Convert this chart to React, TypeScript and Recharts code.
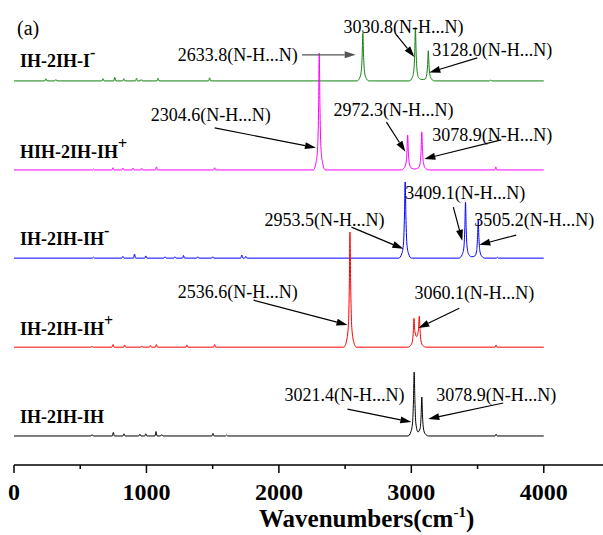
import React from 'react'
import { LineChart, Line, XAxis, YAxis, ReferenceDot, ReferenceLine } from 'recharts'

type Pt = [number, number]

// wavenumber (cm-1), intensity above each trace's own baseline
const spectrumI: Pt[] = [
  [0, 0], [233, 0], [241, 0.5], [249, 0], [308, 0], [316, 0.3], [324, 0], [664, 0], [672, 0.5], [680, 0],
  [753, 0], [761, 0.8], [769, 0], [821, 0], [829, 0.5], [837, 0], [917, 0], [925, 0.6], [933, 0],
  [952, 0], [960, 0.3], [968, 0], [1079, 0], [1087, 0.6], [1095, 0], [1469, 0], [1477, 0.7], [1485, 0],
  [2590, 0], [2609, 0.6], [2622, 2.2], [2629, 5.9], [2633.8, 10.8], [2639, 5.9], [2646, 2.2], [2659, 0.6], [2680, 0],
  [2985, 0], [3006, 0.7], [3019, 2.4], [3026, 6.6], [3030.8, 12], [3036, 6.6], [3043, 2.4], [3056, 0.7], [3080, 0.3],
  [3103, 0.4], [3116, 1.4], [3123, 3.7], [3128, 6.8], [3133, 3.7], [3140, 1.4], [3153, 0.4], [3175, 0],
  [3592, 0], [3600, 0.2], [3608, 0], [4000, 0],
]

const spectrumHIH: Pt[] = [
  [0, 0], [592, 0], [600, 0.2], [608, 0], [740, 0], [748, 0.5], [756, 0], [814, 0], [822, 0.4], [830, 0],
  [891, 0], [899, 0.4], [907, 0], [955, 0], [963, 0.4], [971, 0], [1067, 0], [1075, 0.7], [1083, 0],
  [1507, 0], [1515, 0.5], [1523, 0],
  [2260, 0], [2280, 1.6], [2293, 5.3], [2300, 14.5], [2304.6, 26.4], [2310, 14.5], [2317, 5.3], [2330, 1.6], [2350, 0],
  [2925, 0], [2947, 0.5], [2960, 1.6], [2967, 4.3], [2972.3, 7.9], [2977, 4.3], [2984, 1.6], [2997, 0.5], [3025, 0.2],
  [3054, 0.5], [3067, 1.7], [3074, 4.7], [3078.9, 8.6], [3084, 4.7], [3091, 1.7], [3104, 0.5], [3130, 0],
  [3630, 0], [3638, 0.7], [3646, 0], [4000, 0],
]

const spectrumIHm: Pt[] = [
  [0, 0], [592, 0], [600, 0.2], [608, 0], [814, 0], [822, 0.4], [830, 0], [902, 0], [910, 0.9], [918, 0],
  [987, 0], [995, 0.5], [1003, 0], [1132, 0], [1140, 0.3], [1148, 0], [1207, 0], [1215, 0.3], [1223, 0],
  [1272, 0], [1280, 0.6], [1288, 0], [1379, 0], [1387, 0.3], [1395, 0], [1492, 0], [1500, 0.3], [1508, 0],
  [1712, 0], [1720, 0.7], [1728, 0], [1742, 0], [1750, 0.4], [1758, 0],
  [2905, 0], [2928, 1], [2941, 3.4], [2948, 9.5], [2953.5, 17.2], [2959, 9.5], [2966, 3.4], [2979, 1], [3000, 0],
  [3360, 0], [3384, 0.8], [3397, 2.5], [3404, 6.9], [3409.1, 12.6], [3414, 6.9], [3421, 2.5], [3434, 0.8], [3457, 0.3],
  [3480, 0.5], [3493, 1.7], [3500, 4.7], [3505.2, 8.6], [3510, 4.7], [3517, 1.7], [3530, 0.5], [3555, 0],
  [3642, 0], [3650, 0.2], [3658, 0], [4000, 0],
]

const spectrumIHp: Pt[] = [
  [0, 0], [582, 0], [590, 0.2], [598, 0], [740, 0], [748, 0.6], [756, 0], [828, 0], [836, 0.5], [844, 0],
  [957, 0], [965, 0.3], [973, 0], [1022, 0], [1030, 0.4], [1038, 0], [1067, 0], [1075, 0.6], [1083, 0],
  [1297, 0], [1305, 0.5], [1313, 0], [1507, 0], [1515, 0.6], [1523, 0],
  [2490, 0], [2512, 1.6], [2525, 5.2], [2532, 14.3], [2536.6, 26], [2542, 14.3], [2549, 5.2], [2562, 1.6], [2585, 0],
  [2975, 0], [2995, 0.4], [3008, 1.3], [3015, 3.6], [3020, 6.5], [3026, 3.8], [3040, 2.4], [3054, 4],
  [3060.1, 7], [3066, 3.8], [3073, 1.4], [3086, 0.4], [3110, 0],
  [3632, 0], [3640, 0.5], [3648, 0], [4000, 0],
]

const spectrumIH: Pt[] = [
  [0, 0], [582, 0], [590, 0.3], [598, 0], [742, 0], [750, 0.8], [758, 0], [822, 0], [830, 0.5], [838, 0],
  [942, 0], [950, 0.4], [958, 0], [987, 0], [995, 0.5], [1003, 0], [1064, 0], [1072, 1.0], [1080, 0],
  [1107, 0], [1115, 0.3], [1123, 0], [1494, 0], [1502, 0.6], [1510, 0], [1597, 0], [1605, 0.2], [1613, 0],
  [2975, 0], [2996, 0.9], [3009, 2.9], [3016, 7.9], [3021.4, 14.4], [3027, 7.9], [3034, 2.9], [3050, 0.9],
  [3067, 1.8], [3074, 4.8], [3078.9, 8.8], [3084, 4.8], [3091, 1.8], [3104, 0.5], [3130, 0],
  [3632, 0], [3640, 0.4], [3648, 0], [4000, 0],
]

const spectra = [spectrumI, spectrumHIH, spectrumIHm, spectrumIHp, spectrumIH]
const names = ['IH-2IH-I', 'HIH-2IH-IH', 'IH-2IH-IH', 'IH-2IH-IH', 'IH-2IH-IH']
const charges = ['-', '+', '-', '+', '']
const colors = ['#118011', '#ff00ff', '#0000ff', '#ff0000', '#000000']
const offsets = [86.7, 66.6, 46.7, 26.6, 6.55]
const nameY = [89.8, 69.3, 49.7, 29.3, 9.5]

const xTicks = [0, 500, 1000, 1500, 2000, 2500, 3000, 3500, 4000, 4500]

type Note = { text: string; tx: number; ty: number; from: Pt; to: Pt; color?: string }
const notes: Note[] = [
  { text: '2633.8(N-H...N)', tx: 1236, ty: 91.2, from: [2175, 92.6], to: [2580, 92.6], color: '#555555' },
  { text: '3030.8(N-H...N)', tx: 2488, ty: 97.5, from: [2887, 97.1], to: [3023, 92.1] },
  { text: '3128.0(N-H...N)', tx: 3158, ty: 92.3, from: [3498, 91.9], to: [3136, 88.6] },
  { text: '2304.6(N-H...N)', tx: 1033, ty: 77.7, from: [1515, 76.1], to: [2280, 71.6] },
  { text: '2972.3(N-H...N)', tx: 2412, ty: 78.8, from: [2812, 77.4], to: [2955, 70.7] },
  { text: '3078.9(N-H...N)', tx: 3158, ty: 73.1, from: [3679, 73.4], to: [3098, 69.1] },
  { text: '2953.5(N-H...N)', tx: 1892, ty: 54.0, from: [2548, 53.7], to: [2940, 48.8] },
  { text: '3409.1(N-H...N)', tx: 2955, ty: 60.0, from: [3317, 58.2], to: [3385, 50.6] },
  { text: '3505.2(N-H...N)', tx: 3475, ty: 54.0, from: [3792, 51.9], to: [3513, 49.7] },
  { text: '2536.6(N-H...N)', tx: 1236, ty: 37.7, from: [1809, 37.2], to: [2518, 31.6] },
  { text: '3060.1(N-H...N)', tx: 3023, ty: 37.5, from: [3362, 35.4], to: [3053, 30.9] },
  { text: '3021.4(N-H...N)', tx: 2043, ty: 14.4, from: [2518, 12.6], to: [3000, 9.7] },
  { text: '3078.9(N-H...N)', tx: 3189, ty: 14.4, from: [3694, 14.0], to: [3128, 10.4] },
]

const serif = '"Liberation Serif", "Times New Roman", serif'

const XTick = (p: any) => {
  const v = p.payload.value
  const major = v % 1000 === 0
  return (
    <g>
      <line x1={p.x} x2={p.x} y1={p.y} y2={p.y + (major ? 8 : 4)} stroke="#000" strokeWidth={1.5} />
      {major && v <= 4000 && (
        <text x={p.x} y={p.y + 35} textAnchor="middle" fontFamily={serif} fontWeight="bold" fontSize={24} fill="#000">
          {v}
        </text>
      )}
    </g>
  )
}

const xTitle = (p: any) => {
  const vb = p.viewBox
  return (
    <text x={vb.x + 245} y={vb.y + 62} fontFamily={serif} fontWeight="bold" fontSize={25} fill="#000">
      Wavenumbers(cm<tspan dy={-10} fontSize={15}>-1</tspan><tspan dy={10}>)</tspan>
    </text>
  )
}

const arrow = (color: string) => (p: any) => {
  const { x1, y1, x2, y2 } = p
  const dx = x2 - x1
  const dy = y2 - y1
  const len = Math.sqrt(dx * dx + dy * dy)
  const ux = dx / len
  const uy = dy / len
  const hl = 11
  const hw = 3.5
  const bx = x2 - ux * hl
  const by = y2 - uy * hl
  return (
    <g>
      <line x1={x1} y1={y1} x2={bx} y2={by} stroke={color} strokeWidth={1.2} />
      <polygon
        points={`${x2},${y2} ${bx - uy * hw},${by + ux * hw} ${bx + uy * hw},${by - ux * hw}`}
        fill={color}
      />
    </g>
  )
}

export default function App() {
  return (
    <div style={{ position: 'absolute', left: 0, top: 0, width: 603, height: 535, overflow: 'hidden', background: '#fff' }}>
      <LineChart width={610} height={535} margin={{ top: 22, right: 0, left: 14, bottom: 0 }}>
        <XAxis
          type="number"
          dataKey="x"
          domain={[0, 4500]}
          ticks={xTicks}
          allowDataOverflow
          height={70}
          tickLine={false}
          tickSize={0}
          tickMargin={0}
          tick={<XTick />}
          axisLine={{ stroke: '#000', strokeWidth: 1.5 }}
          label={xTitle}
          interval={0}
        />
        <YAxis
          type="number"
          domain={[0, 100]}
          width={0}
          tick={false}
          tickLine={false}
          axisLine={{ stroke: '#000', strokeWidth: 1.5 }}
          allowDataOverflow
        />
        {spectra.map((s, i) => (
          <Line
            key={i}
            data={s.map(([x, v]) => ({ x, y: v + offsets[i] }))}
            dataKey="y"
            type="monotone"
            stroke={colors[i]}
            strokeWidth={1}
            dot={false}
            activeDot={false}
            isAnimationActive={false}
          />
        ))}
        {names.map((n, i) => (
          <ReferenceDot
            key={'n' + i}
            x={45}
            y={nameY[i]}
            shape={(p: any) => (
              <text x={p.cx} y={p.cy} fontFamily={serif} fontWeight="bold" fontSize={18} fill="#000">
                {n}
                {charges[i] && <tspan dy={-9} fontSize={16}>{charges[i]}</tspan>}
              </text>
            )}
          />
        ))}
        <ReferenceDot
          x={23}
          y={97.1}
          shape={(p: any) => (
            <text x={p.cx} y={p.cy} fontFamily={serif} fontSize={20} fill="#000">(a)</text>
          )}
        />
        {notes.map((nt, i) => (
          <ReferenceLine
            key={'a' + i}
            segment={[{ x: nt.from[0], y: nt.from[1] }, { x: nt.to[0], y: nt.to[1] }]}
            shape={arrow(nt.color || '#000')}
          />
        ))}
        {notes.map((nt, i) => (
          <ReferenceDot
            key={'t' + i}
            x={nt.tx}
            y={nt.ty}
            shape={(p: any) => (
              <text x={p.cx} y={p.cy} fontFamily={serif} fontSize={18} fill="#000">{nt.text}</text>
            )}
          />
        ))}
      </LineChart>
    </div>
  )
}
